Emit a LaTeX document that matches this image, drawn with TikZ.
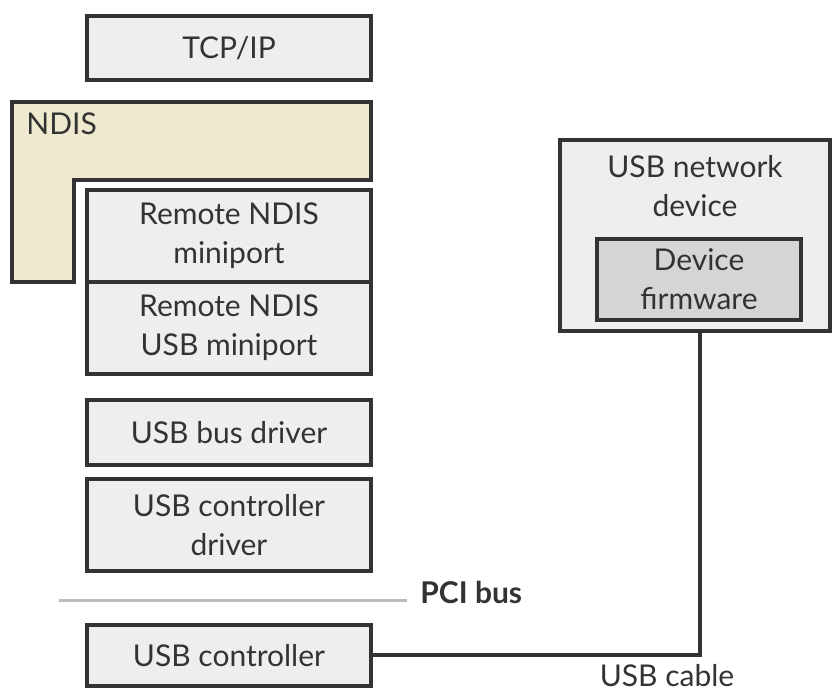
\documentclass[tikz,border=0pt]{standalone}
\usepackage{fontspec}
\setmainfont{Lato}
\usepackage{tikz}
\usetikzlibrary{positioning}

\definecolor{boxline}{HTML}{333333}
\definecolor{boxfill}{HTML}{EEEEEE}
\definecolor{ndisfill}{HTML}{EFEACF}
\definecolor{fwfill}{HTML}{D4D5D7}
\definecolor{pcigray}{HTML}{BDBDBD}

\begin{document}
\begin{tikzpicture}[
  x=0.5pt, y=-0.5pt,
  layer/.style={draw=boxline, fill=boxfill, line width=2pt, minimum width=142pt, minimum height=46pt, inner sep=0pt, align=center, text=boxline, font=\fontsize{15}{19.5}\selectfont},
  lbl/.style={text=boxline, inner sep=0pt, align=center, font=\fontsize{15}{19.5}\selectfont},
  cable/.style={draw=boxline, line width=2pt}
]
  \useasboundingbox (0,0) rectangle (832,690);

  % Host stack
  \node[layer, minimum height=32pt] (tcpip) at (229,48) {TCP/IP};
  \draw[boxline, fill=ndisfill, line width=2pt]
    (12,102) -- (371,102) -- (371,180) -- (74,180) -- (74,282) -- (12,282) -- cycle;
  \node[lbl, anchor=north west] (ndis) at (26,112) {NDIS};
  \node[layer] (rndis) at (229,236) {Remote NDIS\\miniport};
  \node[layer] (rndisusb) at (229,328) {Remote NDIS\\USB miniport};
  \node[layer, minimum height=32.5pt] (busdrv) at (229,432.5) {USB bus driver};
  \node[layer] (ctrldrv) at (229,525) {USB controller\\driver};

  % PCI bus
  \draw[pcigray, line width=1.5pt] (59,601) -- (407,601);
  \node[lbl, anchor=west, font=\fontsize{15}{19.5}\selectfont\bfseries] (pci) at (420,592) {PCI bus};

  % Hardware
  \node[layer, minimum height=30.5pt] (usbctrl) at (229,655.5) {USB controller};
  \node[layer, minimum width=135pt, minimum height=95.5pt] (netdev) at (695,235.5) {};
  \node[lbl] (netlbl) at (695,186) {USB network\\device};
  \node[layer, fill=fwfill, minimum width=102pt, minimum height=40.5pt] (firmware) at (699,279.5) {Device\\firmware};

  % Cable
  \coordinate (bend) at (netdev.south -| 700,0);
  \draw[cable] (usbctrl.east) -- (usbctrl.east -| bend) -- (bend);
  \node[lbl, anchor=north] (cablelbl) at (667,664) {USB cable};
\end{tikzpicture}
\end{document}
